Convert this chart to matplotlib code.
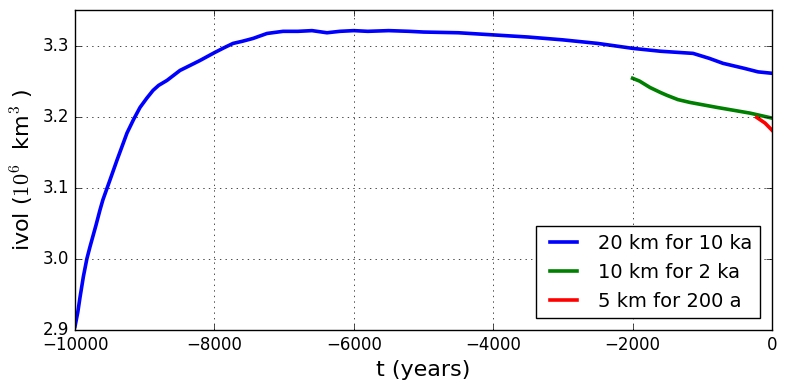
import matplotlib
matplotlib.use("Agg")
import matplotlib.pyplot as plt

plt.style.use("classic")
plt.rcParams["mathtext.fontset"] = "cm"
plt.rcParams["font.family"] = ["DejaVu Sans"]

# 20 km run, 10 ka
t_20km = [-10000, -9960, -9928, -9880, -9830, -9785, -9700, -9641, -9600, -9498,
          -9397, -9254, -9160, -9067, -8970, -8880, -8800, -8680, -8494, -8350,
          -8207, -8000, -7860, -7733, -7600, -7446, -7245, -7015, -6800, -6600,
          -6385, -6200, -6000, -5800, -5500, -5200, -5000, -4500, -4000, -3500,
          -3000, -2500, -1994, -1600, -1133, -900, -703, -400, -200, 0]
v_20km = [2.905, 2.925, 2.946, 2.975, 3.000, 3.017, 3.047, 3.069, 3.083, 3.111,
          3.139, 3.177, 3.196, 3.213, 3.226, 3.237, 3.244, 3.251, 3.265, 3.272,
          3.279, 3.290, 3.297, 3.303, 3.306, 3.310, 3.317, 3.320, 3.320, 3.321,
          3.318, 3.320, 3.321, 3.320, 3.321, 3.320, 3.319, 3.318, 3.315, 3.312,
          3.308, 3.303, 3.296, 3.292, 3.289, 3.282, 3.275, 3.268, 3.263, 3.261]

# 10 km run, 2 ka
t_10km = [-2000, -1900, -1750, -1600, -1507, -1350, -1176, -789, -316, 0]
v_10km = [3.254, 3.250, 3.241, 3.234, 3.230, 3.224, 3.220, 3.213, 3.205, 3.198]

# 5 km run, 200 a
t_5km = [-220, -100, 0]
v_5km = [3.199, 3.191, 3.181]

fig = plt.figure(figsize=(7.86, 3.87), dpi=100, facecolor="white")
ax = fig.add_axes([75 / 786, 57 / 387, 697 / 786, 320 / 387])

ax.plot(t_20km, v_20km, "b-", lw=2.6, label="20 km for 10 ka")
ax.plot(t_10km, v_10km, "g-", lw=2.6, label="10 km for 2 ka")
ax.plot(t_5km, v_5km, "r-", lw=2.6, label="5 km for 200 a")

ax.set_xlim(-10000, 0)
ax.set_ylim(2.9, 3.35)
ax.set_yticks([2.9, 3.0, 3.1, 3.2, 3.3])
ax.grid(True)
ax.tick_params(labelsize=12)
ax.set_xlabel("t (years)", fontsize=16)
ax.set_ylabel(r"ivol ($10^6$  km$^3$ )", fontsize=16)
ax.legend(loc="lower right", fontsize=14, borderaxespad=0.6)

fig.savefig("out.png", dpi=100, facecolor="white")
